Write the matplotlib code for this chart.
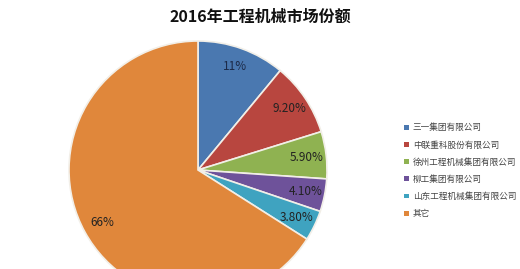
import matplotlib
matplotlib.use("Agg")
import matplotlib.pyplot as plt
import numpy as np

plt.rcParams['font.family'] = ['Noto Sans CJK SC', 'DejaVu Sans']

title = "2016年工程机械市场份额"
companies = ["三一集团有限公司", "中联重科股份有限公司", "徐州工程机械集团有限公司",
             "柳工集团有限公司", "山东工程机械集团有限公司", "其它"]
shares = [11, 9.2, 5.9, 4.1, 3.8, 66]
share_labels = ["11%", "9.20%", "5.90%", "4.10%", "3.80%", "66%"]
colors = ["#4a78b0", "#b8463f", "#8fb251", "#6e529a", "#3fa3c0", "#e0873b"]

fig = plt.figure(figsize=(5.2, 2.69), dpi=100)
ax = fig.add_axes([0, 0, 1, 1])

wedges, texts = ax.pie(shares, labels=share_labels, colors=colors, startangle=90,
                       counterclock=False, center=(198, 99), radius=129,
                       labeldistance=0.85, frame=True,
                       wedgeprops=dict(edgecolor="#f2efe8", linewidth=1.2),
                       textprops=dict(fontsize=8.5, color="#222222"))
for t in texts:
    t.set_ha('center')
    t.set_va('center')
texts[0].set_color("#1c2a48")
ax.set_xlim(0, 520)
ax.set_ylim(0, 269)
ax.set_aspect('equal')
ax.axis('off')

fig.text(0.5, 1 - 17 / 269, title, ha='center', va='center',
         fontsize=11.5, fontweight='bold', color="#111111")

leg = fig.legend(wedges, companies, loc='upper left',
                 bbox_to_anchor=(400 / 520, 1 - 119 / 269), frameon=False,
                 fontsize=6.2, handlelength=0.5, handleheight=0.5,
                 handletextpad=0.5, labelspacing=0.95, borderpad=0,
                 labelcolor="#444444")
for h in leg.legend_handles:
    h.set_edgecolor('none')

fig.savefig("out.png", dpi=100)
